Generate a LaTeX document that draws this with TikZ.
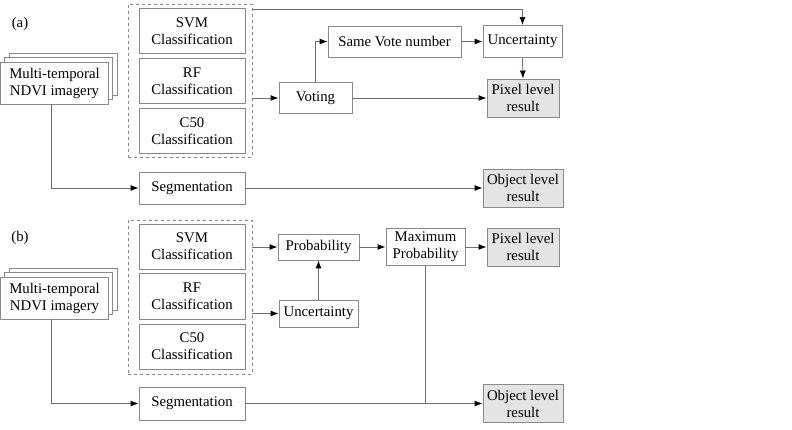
\documentclass[tikz,border=0pt]{standalone}
\usepackage{fontspec}
\setmainfont{Liberation Serif}
\usetikzlibrary{arrows.meta}
\definecolor{boxline}{HTML}{8A8A8A}
\definecolor{wire}{HTML}{707070}
\definecolor{resfill}{HTML}{E4E4E4}
\begin{document}
\begin{tikzpicture}[x=1pt,y=-1pt,
  every node/.style={font=\fontsize{14.8}{17}\selectfont, inner sep=0pt, align=center},
  box/.style={draw=boxline, line width=0.9pt, fill=white, anchor=center},
  result/.style={box, fill=resfill},
  group/.style={draw=boxline, dashed, line width=0.7pt, anchor=center},
  layer/.style={draw=boxline, line width=0.9pt, fill=white},
  arr/.style={draw=wire, line width=0.9pt, -{Latex[black,length=8pt,width=6pt]}},
  wireonly/.style={draw=wire, line width=0.9pt},
  tag/.style={font=\fontsize{14.8}{17}\selectfont}]
\useasboundingbox (0,0) rectangle (792,430);

% ---------------- (a) majority voting ----------------
\node[tag] (tagA) at (20,24) {(a)};

% stacked image layers
\draw[layer] (9,53) rectangle (117,95);
\draw[layer] (4.5,57.5) rectangle (112.5,99.5);
\node[box, minimum width=108pt, minimum height=42pt] (imgA) at (54.5,83) {Multi-temporal\\NDVI imagery};

\node[group, minimum width=124pt, minimum height=153pt] (dashA) at (190,80.5) {};
\node[box, minimum width=106pt, minimum height=45pt] (svmA) at (192,31) {SVM\\Classification};
\node[box, minimum width=106pt, minimum height=45pt] (rfA) at (192,81) {RF\\Classification};
\node[box, minimum width=106pt, minimum height=45pt] (c50A) at (192,131) {C50\\Classification};
\node[box, minimum width=106pt, minimum height=32pt] (segA) at (192,188) {Segmentation};

\node[box, minimum width=73pt, minimum height=31pt] (vote) at (315.5,98) {Voting};
\node[box, minimum width=133pt, minimum height=31pt] (same) at (394.5,41.5) {Same Vote number};
\node[box, minimum width=79pt, minimum height=32pt] (uncA) at (522.5,41.5) {Uncertainty};
\node[result, minimum width=72pt, minimum height=38pt] (pixA) at (523,98) {Pixel level\\result};
\node[result, minimum width=80pt, minimum height=38pt] (objA) at (523,188) {Object level\\result};

\draw[arr] ([yshift=-6pt]dashA.north east) -| (uncA.north);
\draw[arr] (dashA.east |- vote) -- (vote.west);
\draw[arr] (vote.east) -- (pixA.west);
\draw[arr] (vote.north) |- (same.west);
\draw[arr] (same.east) -- (uncA.west);
\draw[arr] (uncA.south) -- (pixA.north);
\draw[arr] ([xshift=-3pt]imgA.south) |- (segA.west);
\draw[arr] (segA.east) -- (objA.west);

% ---------------- (b) probability fusion ----------------
\node[tag] (tagB) at (20,238) {(b)};

\draw[layer] (9,268) rectangle (117,310);
\draw[layer] (4.5,272.5) rectangle (112.5,314.5);
\node[box, minimum width=108pt, minimum height=42pt] (imgB) at (54.5,298) {Multi-temporal\\NDVI imagery};

\node[group, minimum width=124pt, minimum height=154pt] (dashB) at (190,297) {};
\node[box, minimum width=106pt, minimum height=45pt] (svmB) at (192,246.5) {SVM\\Classification};
\node[box, minimum width=106pt, minimum height=46pt] (rfB) at (192,296.5) {RF\\Classification};
\node[box, minimum width=106pt, minimum height=45pt] (c50B) at (192,346.5) {C50\\Classification};
\node[box, minimum width=106pt, minimum height=33pt] (segB) at (192,403.5) {Segmentation};

\node[box, minimum width=81pt, minimum height=26pt] (prob) at (318.5,247) {Probability};
\node[box, minimum width=79pt, minimum height=27pt] (uncB) at (318.5,313.5) {Uncertainty};
\node[box, minimum width=79pt, minimum height=37pt] (maxp) at (425.5,247) {Maximum\\Probability};
\node[result, minimum width=72pt, minimum height=38pt] (pixB) at (523,247) {Pixel level\\result};
\node[result, minimum width=80pt, minimum height=38pt] (objB) at (523,403.5) {Object level\\result};

\draw[arr] (dashB.east |- prob) -- (prob.west);
\draw[arr] (dashB.east |- uncB) -- (uncB.west);
\draw[arr] (uncB.north) -- (prob.south);
\draw[arr] (prob.east) -- (maxp.west);
\draw[arr] (maxp.east) -- (pixB.west);
\draw[arr] ([xshift=-3pt]imgB.south) |- (segB.west);
\draw[arr] (segB.east) -- (objB.west);
\draw[wireonly] (maxp.south) -- (maxp.south |- segB);
\end{tikzpicture}
\end{document}
